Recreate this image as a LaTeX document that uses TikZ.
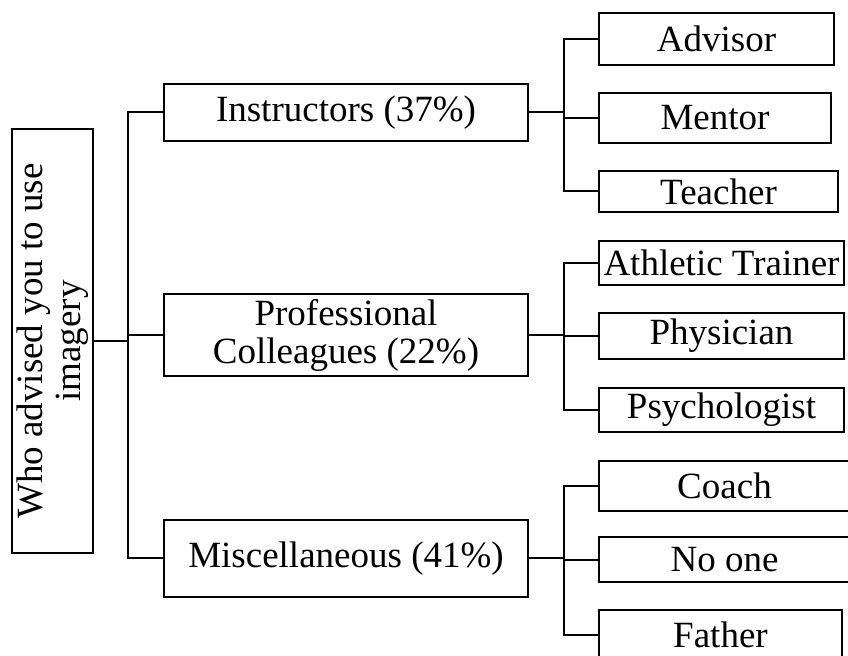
\documentclass[tikz,border=0pt]{standalone}
\usepackage{fontspec}
\setmainfont{Liberation Serif}
\usetikzlibrary{positioning}
\tikzset{
    box/.style={draw, line width=1pt, inner sep=1pt, align=center,
                font=\fontsize{18.5}{19}\selectfont},
    group/.style={box, minimum width=182pt},
    leaf/.style={box, anchor=west},
    link/.style={line width=1pt},
}
\begin{document}
\begin{tikzpicture}[x=0.5pt, y=-0.5pt]

    \useasboundingbox (0,0) rectangle (848,656);

    \node[box, rotate=90, minimum width=212pt, minimum height=40.5pt] (root)
        at (52.5,341) {Who advised you to use\\imagery};

    \node[group, minimum height=28.5pt] (instr) at (346,112.5) {Instructors (37\%)};
    \node[group, minimum height=41pt] (prof) at (346,335) {Professional\\Colleagues (22\%)};
    \node[group, minimum height=38.5pt] (misc) at (346,558.5) {Miscellaneous (41\%)};

    \node[leaf, minimum width=117.5pt, minimum height=26pt] (advisor) at (598,39) {Advisor};
    \node[leaf, minimum width=116pt, minimum height=25pt] (mentor) at (598,118) {Mentor};
    \node[leaf, minimum width=119.5pt, minimum height=20.5pt] (teacher) at (598,191.5) {Teacher};
    \node[leaf, minimum width=122.5pt, minimum height=22pt] (trainer) at (598,263) {Athletic Trainer};
    \node[leaf, minimum width=122.5pt, minimum height=23pt] (physician) at (598,336) {Physician};
    \node[leaf, minimum width=122.5pt, minimum height=22pt] (psych) at (598,410) {Psychologist};
    \node[leaf, minimum width=125.5pt, minimum height=25pt] (coach) at (598,486) {Coach};
    \node[leaf, minimum width=125.5pt, minimum height=22.5pt] (noone) at (598,560) {No one};
    \node[leaf, minimum width=121.5pt, minimum height=24.5pt] (father) at (598,635) {Father};

    % root to the three groups
    \coordinate (trunk) at (128,341);
    \draw[link] (root.south) -- (trunk);
    \foreach \g in {instr,prof,misc}
        \draw[link] (trunk) |- (\g.west);

    % groups to their answers
    \draw[link] (instr.east) -- ++(35,0) coordinate (instrfork);
    \draw[link] (prof.east) -- ++(35,0) coordinate (proffork);
    \draw[link] (misc.east) -- ++(35,0) coordinate (miscfork);
    \foreach \a in {advisor,mentor,teacher}
        \draw[link] (instrfork) |- (\a.west);
    \foreach \a in {trainer,physician,psych}
        \draw[link] (proffork) |- (\a.west);
    \foreach \a in {coach,noone,father}
        \draw[link] (miscfork) |- (\a.west);

\end{tikzpicture}
\end{document}
